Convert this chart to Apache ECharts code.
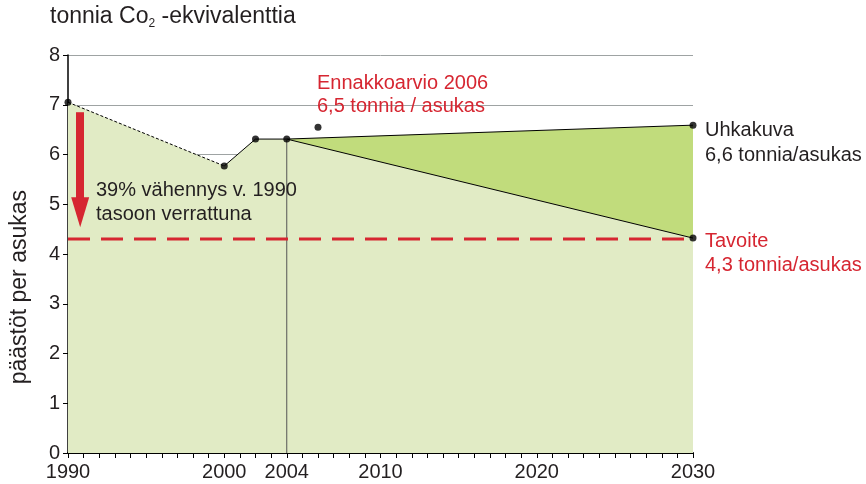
<!DOCTYPE html>
<html>
<head>
<meta charset="utf-8">
<script src="https://cdn.jsdelivr.net/npm/echarts@6/dist/echarts.min.js"></script>
<style>
  html, body { margin: 0; padding: 0; background: #fff; }
  #chart { width: 866px; height: 484px; }
</style>
</head>
<body>
<div id="chart"></div>
<script>
  // history 1990-2004 (t CO2-ekv / asukas)
  var histYears = [1990, 2000, 2002, 2004];
  var histValues = [7.05, 5.77, 6.31, 6.31];
  // ennakkoarvio 2006
  var estimateYear = 2006;
  var estimateValue = 6.55;
  // scenarios 2004 -> 2030
  var scenYears = [2004, 2030];
  var threatValues = [6.31, 6.59];   // Uhkakuva
  var targetValues = [6.31, 4.32];   // Tavoite
  var targetLevel = 4.3;
  var xLabelYears = [1990, 2000, 2004, 2010, 2020, 2030];

  var RED = '#d62631';
  var DARK = '#231f20';
  var FONT = '"Liberation Sans", Arial, sans-serif';

  function pairs(xs, ys) {
    return xs.map(function (x, i) { return [x, ys[i]]; });
  }

  var histPts = pairs(histYears, histValues);
  var threatPts = pairs(scenYears, threatValues);
  var targetPts = pairs(scenYears, targetValues);
  var lowerPath = histPts.concat([targetPts[1]]);

  var myChart = echarts.init(document.getElementById('chart'));
  myChart.setOption({
    animation: false,
    grid: { left: 68, right: 173, top: 55, bottom: 31 },
    xAxis: {
      type: 'value',
      min: 1990,
      max: 2030,
      interval: 1,
      axisLine: { lineStyle: { color: '#000', width: 2 } },
      axisTick: { show: true, length: 5, inside: false, lineStyle: { color: '#000', width: 1 } },
      splitLine: { show: false },
      axisLabel: {
        color: DARK,
        fontFamily: FONT,
        fontSize: 20,
        margin: 9,
        showMinLabel: true,
        showMaxLabel: true,
        formatter: function (v) {
          return xLabelYears.indexOf(v) >= 0 ? String(v) : '';
        }
      }
    },
    yAxis: {
      type: 'value',
      min: 0,
      max: 8,
      interval: 1,
      axisLine: { show: true, lineStyle: { color: '#000', width: 1.5 } },
      axisTick: { show: true, length: 5, lineStyle: { color: '#000' } },
      splitLine: { lineStyle: { color: '#9ea3a3', width: 1 } },
      axisLabel: { color: DARK, fontFamily: FONT, fontSize: 20, margin: 8 }
    },
    series: [
      {
        // wedge under the threat line (covered below target line)
        type: 'line',
        data: threatPts,
        symbol: 'none',
        z: 1,
        lineStyle: { width: 0 },
        areaStyle: { color: '#c1dc7c', opacity: 1 }
      },
      {
        type: 'line',
        data: lowerPath,
        symbol: 'none',
        z: 2,
        lineStyle: { width: 0 },
        areaStyle: { color: '#e1ebc5', opacity: 1 }
      },
      {
        type: 'line',
        data: histPts.slice(0, 2),
        symbol: 'none',
        z: 3,
        lineStyle: { color: '#000', width: 1, type: [3, 2] }
      },
      {
        type: 'line',
        data: histPts.slice(1),
        symbol: 'none',
        z: 3,
        lineStyle: { color: '#000', width: 1 }
      },
      {
        type: 'line',
        data: threatPts,
        symbol: 'none',
        z: 3,
        lineStyle: { color: '#000', width: 1 }
      },
      {
        type: 'line',
        data: targetPts,
        symbol: 'none',
        z: 3,
        lineStyle: { color: '#000', width: 1 }
      },
      {
        type: 'line',
        data: [[2004, targetValues[0]], [2004, 0]],
        symbol: 'none',
        z: 3,
        lineStyle: { color: '#555', width: 1 }
      },
      {
        type: 'line',
        data: [[1990, targetLevel], [2030, targetLevel]],
        symbol: 'none',
        z: 4,
        lineStyle: { color: RED, width: 3, type: [22, 11] },
        markLine: {
          silent: true,
          animation: false,
          label: { show: false },
          symbol: ['none', 'triangle'],
          symbolSize: [18, 30],
          lineStyle: { color: RED, width: 8, type: 'solid' },
          data: [[
            { coord: [1990.78, 6.85] },
            { coord: [1990.78, 4.84] }
          ]]
        }
      },
      {
        type: 'scatter',
        data: histPts.concat([[estimateYear, estimateValue], threatPts[1], targetPts[1]]),
        symbolSize: 7,
        z: 5,
        itemStyle: { color: '#000' }
      }
    ],
    graphic: [
      {
        type: 'text', left: 50, top: 5, z: 100,
        style: {
          text: 'tonnia Co{s|2} -ekvivalenttia',
          fill: DARK, font: '23px ' + FONT,
          rich: { s: { fontSize: 12, fill: DARK, fontFamily: FONT, padding: [14, 0, 0, 0] } }
        }
      },
      {
        type: 'text', left: 8, top: 190, rotation: Math.PI / 2, z: 100,
        style: { text: 'päästöt per asukas', fill: DARK, font: '23px ' + FONT }
      },
      {
        type: 'text', left: 96, top: 178, z: 100,
        style: { text: '39% vähennys v. 1990\ntasoon verrattuna', fill: DARK, font: '20px ' + FONT, lineHeight: 24 }
      },
      {
        type: 'text', left: 317, top: 72, z: 100,
        style: { text: 'Ennakkoarvio 2006\n6,5 tonnia / asukas', fill: RED, font: '20px ' + FONT, lineHeight: 23 }
      },
      {
        type: 'text', left: 705, top: 118, z: 100,
        style: { text: 'Uhkakuva\n6,6 tonnia/asukas', fill: DARK, font: '20px ' + FONT, lineHeight: 25 }
      },
      {
        type: 'text', left: 705, top: 229, z: 100,
        style: { text: 'Tavoite\n4,3 tonnia/asukas', fill: RED, font: '20px ' + FONT, lineHeight: 24 }
      }
    ]
  });
</script>
</body>
</html>
